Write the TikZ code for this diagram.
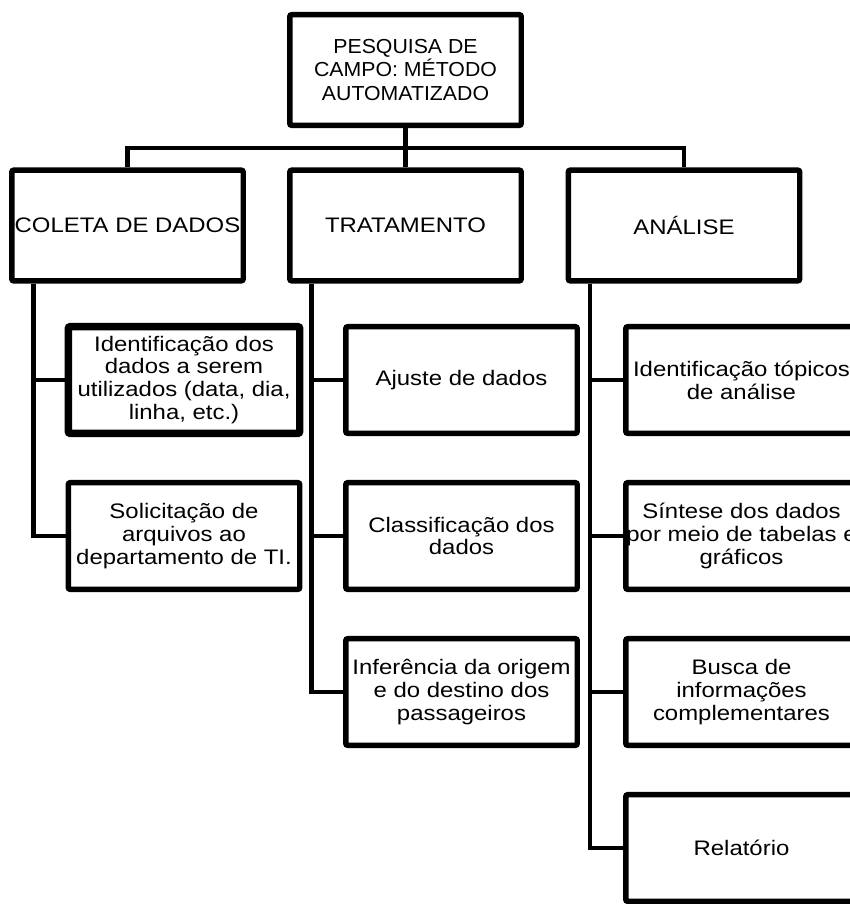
\documentclass[tikz,border=0pt]{standalone}
\usepackage{fontspec}
\setmainfont{Liberation Sans}[FakeStretch=1.14]
\newfontfamily\headfont{Liberation Sans}[FakeStretch=1.05]
\usepackage{tikz}
\usetikzlibrary{calc}
\tikzset{
  box/.style={draw, rounded corners=1.5pt, line width=4.1pt, align=center, inner sep=0pt,
              minimum width=173.6pt, minimum height=83pt,
              font=\fontsize{15.75pt}{17.2pt}\selectfont},
  headbox/.style={box, font=\headfont\fontsize{15.2pt}{17.9pt}\selectfont},
  subbox/.style={box, minimum height=80pt},
  heavybox/.style={subbox, line width=5.6pt},
  link/.style={line width=3.4pt}
}

\begin{document}
\begin{tikzpicture}[x=0.75pt, y=-0.75pt]
\useasboundingbox (0,0) rectangle (850,904);
\clip (0,0) rectangle (850,904);
% top and first level
\node[headbox] (pesq) at (405.5,70) {PESQUISA DE\\CAMPO: MÉTODO\\AUTOMATIZADO};
\node[box] (coleta) at (127.5,225.5) {COLETA DE DADOS};
\node[box] (trat) at (405.5,225.5) {TRATAMENTO};
\node[box] (anal) at (684,225.5) {ANÁLISE};
% second level
\node[heavybox] (ident) at (184,380) {Identificação dos\\dados a serem\\utilizados (data, dia,\\linha, etc.)};
\node[subbox] (solic) at (184,536) {Solicitação de\\arquivos ao\\departamento de TI.};
\node[subbox] (ajuste) at (461.5,380) {Ajuste de dados};
\node[subbox] (classif) at (461.5,536) {Classificação dos\\dados};
\node[subbox] (infer) at (461.5,692) {Inferência da origem\\e do destino dos\\passageiros};
\node[subbox] (topic) at (741.5,380) {Identificação tópicos\\de análise};
\node[subbox] (sintese) at (741.5,536) {Síntese dos dados\\por meio de tabelas e\\gráficos};
\node[subbox] (busca) at (741.5,692) {Busca de\\informações\\complementares};
\node[subbox] (relat) at (741.5,848) {Relatório};
% connectors
\coordinate (bar) at (405.5,148);
\draw[link] (pesq.south) -- (bar);
\foreach \n in {coleta,trat,anal}
  \draw[link] (bar) -| (\n.north);
\foreach \p/\kids in {coleta/{ident,solic},trat/{ajuste,classif,infer},anal/{topic,sintese,busca,relat}}
  \foreach \k in \kids
    \draw[link] ($(\p.south west)+(24.5,0)$) |- (\k.west);
\end{tikzpicture}
\end{document}
